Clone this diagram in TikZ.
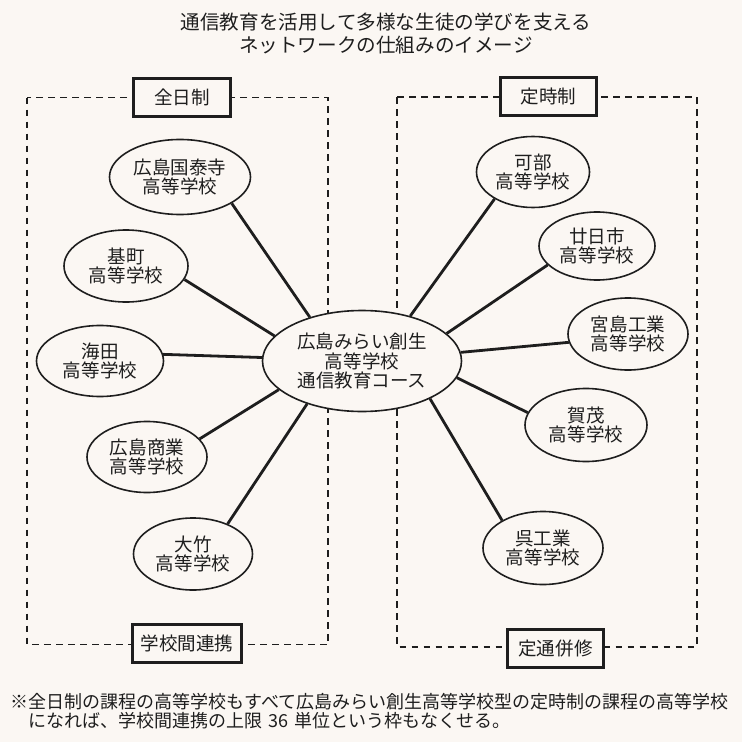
\documentclass[tikz,border=0pt]{standalone}
\usepackage{fontspec}
\setmainfont{Noto Sans CJK JP}
\usetikzlibrary{shapes.geometric}
\definecolor{bg}{RGB}{251,247,243}
\definecolor{ink}{RGB}{30,30,30}
\begin{document}
\begin{tikzpicture}[x=0.75pt,y=-0.75pt,
        every node/.style={text=ink, font=\fontsize{13.9pt}{14.5pt}\selectfont},
        school/.style 2 args={ellipse, draw=ink, line width=1.2pt, fill=bg, inner sep=0pt,
            align=center, minimum width=#1, minimum height=#2},
        label/.style={draw=ink, line width=2.3pt, fill=bg, minimum width=#1, minimum height=28.5pt},
        frame/.style={draw=ink, line width=1.3pt, dash pattern=on 5pt off 4pt},
        link/.style={draw=ink, line width=2.1pt}]
    \fill[bg] (0,0) rectangle (742,742);
    \useasboundingbox (0,0) rectangle (742,742);
    % title
    \node[align=center, font=\fontsize{14.7pt}{17.25pt}\selectfont] (title) at (386,33.5)
        {通信教育を活用して多様な生徒の学びを支える\\ネットワークの仕組みのイメージ};
    % dashed frames
    \draw[frame] (27,97.5) rectangle (328,644.5);
    \draw[frame] (397,97.3) rectangle (697,646.7);
    \node[label=72.75pt] (zennichi) at (182,97.5) {全日制};
    \node[label=72pt] (teiji) at (548.7,96.5) {定時制};
    \node[label=81.75pt] (renkei) at (187,643.5) {学校間連携};
    \node[label=72pt] (heishu) at (555.5,648.5) {定通併修};
    % schools
    \node[school={149.25pt}{75.75pt}] (mirai) at (362,361) {広島みらい創生\\高等学校\\通信教育コース};
    \node[school={105.75pt}{56.25pt}] (kokutaiji) at (180,177) {広島国泰寺\\高等学校};
    \node[school={93pt}{54pt}] (motomachi) at (126,266) {基町\\高等学校};
    \node[school={95.25pt}{53.25pt}] (kaita) at (100,361) {海田\\高等学校};
    \node[school={90pt}{53.25pt}] (shogyo) at (147,457) {広島商業\\高等学校};
    \node[school={89.25pt}{54pt}] (otake) at (193,554) {大竹\\高等学校};
    \node[school={84.75pt}{53.25pt}] (kabe) at (533,172) {可部\\高等学校};
    \node[school={87pt}{51pt}] (hatsukaichi) at (597,246) {廿日市\\高等学校};
    \node[school={90pt}{54pt}] (miyajima) at (628,334) {宮島工業\\高等学校};
    \node[school={91.5pt}{54.75pt}] (kamo) at (586,425) {賀茂\\高等学校};
    \node[school={90pt}{54.75pt}] (kure) at (543,548) {呉工業\\高等学校};
    % links
    \draw[link] (kokutaiji.-27.4) -- (mirai.140.6);
    \draw[link] (motomachi.-13) -- (mirai.164.9);
    \draw[link] (kaita.6.4) -- (mirai.178.4);
    \draw[link] (shogyo.19.4) -- (mirai.199.1);
    \draw[link] (otake.41) -- (mirai.218.2);
    \draw[link] (kabe.215.7) -- (mirai.43.4);
    \draw[link] (hatsukaichi.201.3) -- (mirai.18.2);
    \draw[link] (miyajima.188.3) -- (mirai.5.6);
    \draw[link] (kamo.168.5) -- (mirai.-10.9);
    \draw[link] (kure.146.3) -- (mirai.-29.4);
    % note
    \node[anchor=north west, align=left, inner sep=0pt, font=\fontsize{13.5pt}{14.6pt}\selectfont] (note) at (10,693)
        {※全日制の課程の高等学校もすべて広島みらい創生高等学校型の定時制の課程の高等学校\\
        \hspace*{1em}になれば、学校間連携の上限\hspace{0.35em}36\hspace{0.35em}単位という枠もなくせる。};
\end{tikzpicture}
\end{document}
